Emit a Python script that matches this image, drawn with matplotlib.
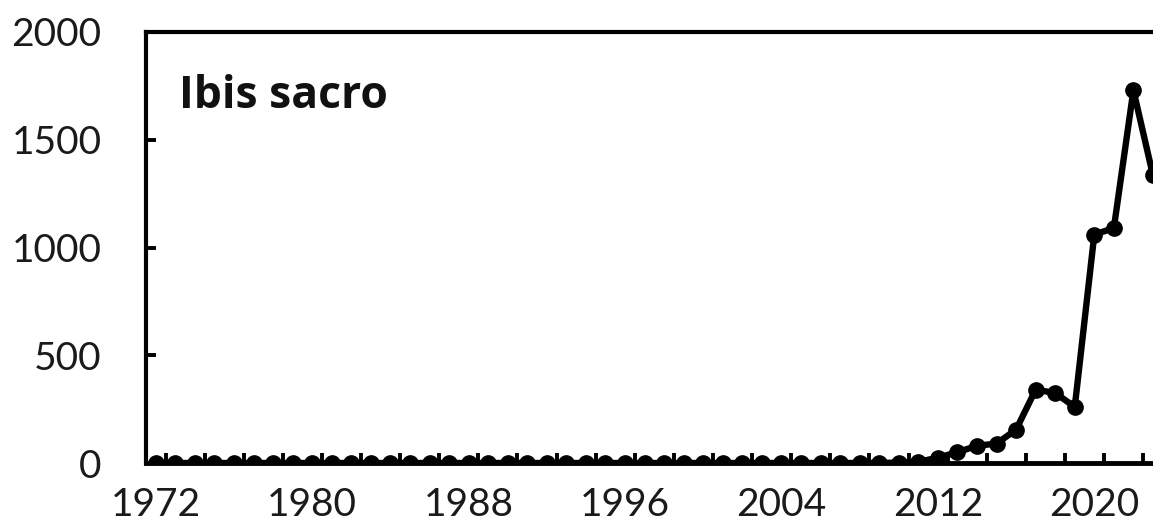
import matplotlib
matplotlib.use("Agg")
import matplotlib.pyplot as plt
import numpy as np

# yearly counts, 1972-2023
years = list(range(1972, 2024))
counts = [0] * 38 + [2, 5, 25, 50, 80, 90, 155, 340, 325, 260, 1060, 1090, 1730, 1335]

x_labels = [1972, 1980, 1988, 1996, 2004, 2012, 2020]
y_ticks = [0, 500, 1000, 1500, 2000]

plt.rcParams['font.family'] = ['Lato', 'DejaVu Sans']

fig = plt.figure(figsize=(11.53, 5.27), dpi=100)
ax = fig.add_axes([146 / 1153, 1 - 463 / 527, 1 - 146 / 1153 + 0.002, (463 - 32) / 527])

ax.plot(years, counts, color='black', lw=4.6, marker='o', ms=11,
        solid_joinstyle='round', zorder=3)

ax.set_xlim(1971.5, 2023.12)
ax.set_ylim(0, 2000)

# labels every 8 years, tick marks between categories every 2 years
ax.set_xticks(x_labels)
ax.set_xticklabels([str(v) for v in x_labels])
ax.set_xticks(np.arange(1972.5, 2024, 2), minor=True)
ax.tick_params(axis='x', which='major', length=0, pad=17, labelsize=28, labelcolor='#1a1a1a')
ax.tick_params(axis='x', which='minor', direction='in', length=7, width=2.8)

ax.set_yticks(y_ticks)
ax.tick_params(axis='y', direction='in', length=7, width=2.8, pad=32,
               labelsize=28, labelcolor='#1a1a1a')

ax.spines['right'].set_visible(False)
ax.spines['left'].set_linewidth(3)
ax.spines['top'].set_linewidth(3)
ax.spines['bottom'].set_linewidth(3.5)

ax.text(0.033, 0.85, 'Ibis sacro', transform=ax.transAxes, fontsize=32,
        fontweight='bold', family=['Open Sans', 'DejaVu Sans'],
        color='#111111', va='center', ha='left')

fig.savefig('out.png', dpi=100)
